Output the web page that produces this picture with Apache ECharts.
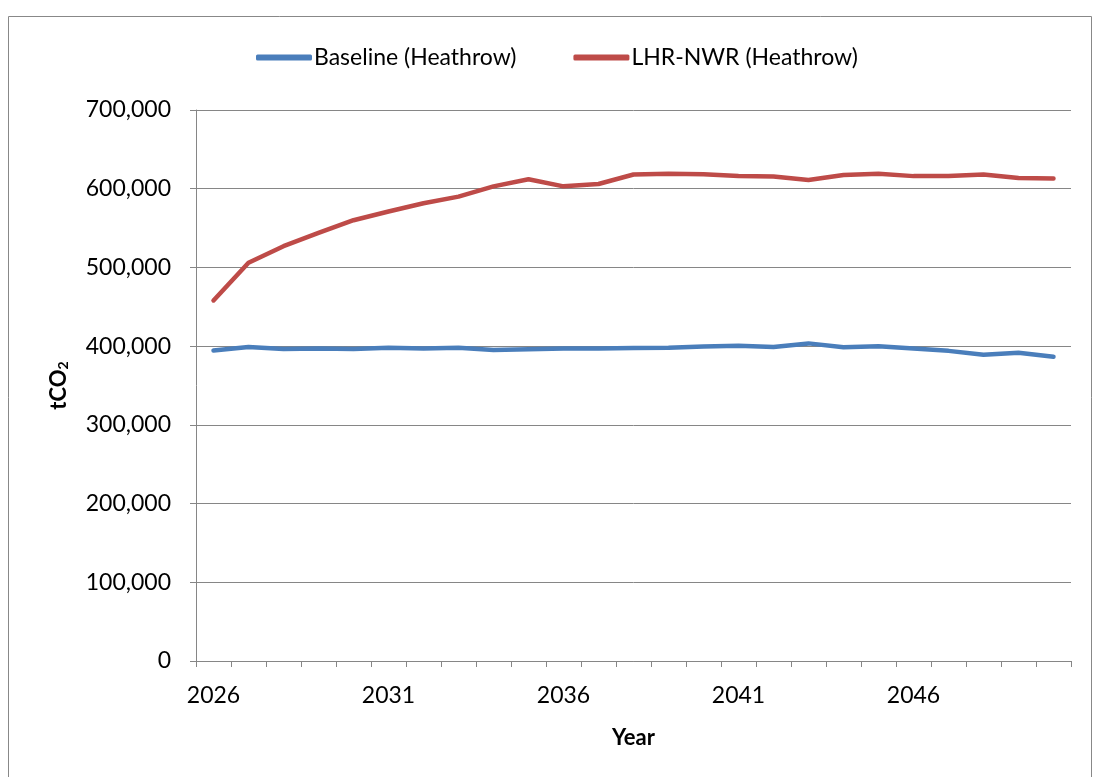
<!DOCTYPE html>
<html><head><meta charset="utf-8">
<script src="https://cdn.jsdelivr.net/npm/echarts@6/dist/echarts.min.js"></script>
<style>html,body{margin:0;padding:0;background:#fff}#c{width:1095px;height:777px}</style>
</head><body><div id="c"></div>
<script>
const years = ['2026','2027','2028','2029','2030','2031','2032','2033','2034','2035','2036','2037','2038','2039','2040','2041','2042','2043','2044','2045','2046','2047','2048','2049','2050'];
const baseline = [394500,399000,396500,397000,396500,398000,397000,398000,395000,396000,397000,397000,397500,398000,399500,400500,399000,403500,398500,400000,397000,394000,389000,391500,386500];
const lhrNwr = [458000,506000,527000,544000,560000,571000,581500,590000,603000,612000,603000,606000,618000,619000,618500,616000,615500,611000,617500,619000,616000,616000,618000,613500,613000];
const seriesNames = ['Baseline (Heathrow)','LHR-NWR (Heathrow)'];
const yTicks = {min:0, max:700000, interval:100000};

const font = 'Lato, "Open Sans", "Liberation Sans", sans-serif';
const chart = echarts.init(document.getElementById('c'));
chart.setOption({
  animation:false,
  textStyle:{fontFamily:font},
  graphic:[{type:'rect',shape:{x:8.5,y:16.5,width:1083,height:800},style:{fill:'none',stroke:'#888',lineWidth:1},silent:true}],
  legend:{
    left:251, top:41,
    itemWidth:56, itemHeight:6, itemGap:57, icon:'roundRect',
    textStyle:{fontFamily:font,fontSize:23,color:'#000',padding:[0,0,0,-3]},
    data:seriesNames
  },
  grid:{left:196,right:24,top:110,bottom:116,containLabel:false},
  xAxis:{
    type:'category', data:years, boundaryGap:true,
    name:'Year', nameLocation:'middle', nameGap:66,
    nameTextStyle:{fontFamily:font,fontSize:22,fontWeight:'bold',color:'#000'},
    axisLine:{lineStyle:{color:'#868686',width:1}},
    axisTick:{show:true,length:6,interval:0,lineStyle:{color:'#868686'}},
    axisLabel:{interval:4,margin:23,fontSize:23,color:'#000',fontFamily:font},
    splitLine:{show:false}
  },
  yAxis:{
    type:'value', min:yTicks.min, max:yTicks.max, interval:yTicks.interval,
    name:'{a|tCO}{b|2}', nameLocation:'middle', nameGap:126, nameRotate:90,
    nameTextStyle:{rich:{a:{fontFamily:font,fontSize:22,fontWeight:'bold',color:'#000'},b:{fontFamily:font,fontSize:14,fontWeight:'bold',color:'#000',verticalAlign:'bottom',padding:[9,0,0,0]}}},
    axisLine:{show:true,lineStyle:{color:'#868686',width:1}},
    axisTick:{show:true,length:6,lineStyle:{color:'#868686'}},
    axisLabel:{margin:25,fontSize:23,color:'#000',fontFamily:font,
      formatter:v=>v.toLocaleString('en-US')},
    splitLine:{show:true,lineStyle:{color:'#868686',width:1}}
  },
  series:[
    {name:seriesNames[0],type:'line',data:baseline,symbol:'none',lineStyle:{width:4.5,color:'#4A7EBB',cap:'round',join:'round'},itemStyle:{color:'#4A7EBB'}},
    {name:seriesNames[1],type:'line',data:lhrNwr,symbol:'none',lineStyle:{width:4.5,color:'#BE4B48',cap:'round',join:'round'},itemStyle:{color:'#BE4B48'}}
  ]
});
</script></body></html>
